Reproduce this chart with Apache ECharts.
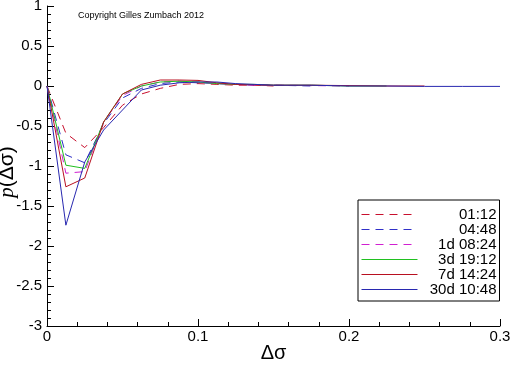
<!DOCTYPE html>
<html>
<head>
<meta charset="utf-8">
<script src="https://cdn.jsdelivr.net/npm/echarts@6/dist/echarts.min.js"></script>
<style>
  html, body { margin: 0; padding: 0; background: #fff; }
  #chart { width: 512px; height: 366px; }
</style>
</head>
<body>
<div id="chart"></div>
<script>
// Δσ grid shared by all curves
var dSigma = [0, 0.0125, 0.025, 0.0375, 0.05, 0.0625, 0.075, 0.0875, 0.1, 0.1125, 0.125, 0.1375, 0.15, 0.175, 0.2, 0.225, 0.25, 0.275, 0.3];

var seriesNames = ['01:12', '04:48', '1d 08:24', '3d 19:12', '7d 14:24', '30d 10:48'];

// p(Δσ), one array per time horizon
var p_0112  = [0, -0.59, -0.77, -0.52, -0.24, -0.1, -0.03, 0.02, 0.03, 0.02, 0.01, 0.01, 0.0];
var p_0448  = [0, -0.86, -0.96, -0.47, -0.15, -0.03, 0.03, 0.05, 0.04, 0.03, 0.02, 0.01, 0.01, 0.0];
var p_1d    = [0, -1.09, -1.07, -0.45, -0.12, 0.0, 0.05, 0.06, 0.05, 0.03, 0.02, 0.01, 0.01, 0.005, 0.0];
var p_3d    = [0, -0.99, -1.03, -0.45, -0.1, 0.0, 0.05, 0.06, 0.05, 0.03, 0.02, 0.02, 0.01, 0.01, 0.0, 0.0];
var p_7d    = [0, -1.26, -1.15, -0.45, -0.1, 0.02, 0.075, 0.075, 0.07, 0.04, 0.02, 0.015, 0.01, 0.01, 0.005, 0.0, 0.0];
var p_30d   = [0, -1.74, -0.95, -0.55, -0.3, -0.05, 0.01, 0.04, 0.05, 0.05, 0.03, 0.02, 0.01, 0.01, 0.0, 0.0, -0.005, -0.005, -0.005];

var yValues = [p_0112, p_0448, p_1d, p_3d, p_7d, p_30d];
var colors = ['#c8102e', '#3030c8', '#d020d0', '#20c020', '#b81020', '#2828b0'];
var dashed = [true, true, true, false, false, false];

function pairs(ys) {
  var out = [];
  for (var i = 0; i < ys.length; i++) {
    out.push([dSigma[i], ys[i]]);
  }
  return out;
}

var series = [];
var legendData = [];
for (var k = 0; k < seriesNames.length; k++) {
  var lineType = dashed[k] ? [8, 6] : 'solid';
  series.push({
    name: seriesNames[k],
    type: 'line',
    data: pairs(yValues[k]),
    showSymbol: false,
    symbol: 'none',
    color: colors[k],
    lineStyle: {
      width: 1,
      color: colors[k],
      type: lineType
    },
    animation: false
  });
  legendData.push({
    name: seriesNames[k],
    itemStyle: { opacity: 0 },
    lineStyle: { width: 1, color: colors[k], type: lineType }
  });
}

var myChart = echarts.init(document.getElementById('chart'));

var option = {
  backgroundColor: '#fff',
  animation: false,
  textStyle: { fontFamily: 'Liberation Sans' },
  grid: {
    left: 47,
    right: 12,
    top: 6,
    bottom: 40,
    containLabel: false,
    outerBoundsMode: 'none'
  },
  graphic: [
    {
      type: 'text',
      left: 78,
      top: 11,
      style: {
        text: 'Copyright Gilles Zumbach 2012',
        fontSize: 9,
        fontFamily: 'Liberation Sans',
        fill: '#000'
      }
    }
  ],
  legend: {
    orient: 'vertical',
    left: 358,
    top: 200,
    padding: [7, 3, 4, 3],
    itemGap: 0,
    itemWidth: 56,
    itemHeight: 15,
    borderColor: '#000',
    borderWidth: 1,
    backgroundColor: '#fff',
    data: legendData,
    formatter: function (name) {
      return '{r|' + name + '}';
    },
    textStyle: {
      fontSize: 15,
      color: '#000',
      rich: {
        r: { width: 74, align: 'right', fontSize: 15, color: '#000' }
      }
    }
  },
  xAxis: {
    type: 'value',
    min: 0,
    max: 0.3,
    interval: 0.1,
    name: 'Δσ',
    nameLocation: 'middle',
    nameGap: 17,
    nameMoveOverlap: false,
    nameTextStyle: { fontSize: 20, color: '#000', verticalAlign: 'top' },
    axisLine: { show: true, onZero: false, lineStyle: { color: '#000', width: 1 } },
    axisTick: { show: true, inside: true, length: 7, lineStyle: { color: '#000' } },
    minorTick: { show: true, splitNumber: 5, length: 4, lineStyle: { color: '#000' } },
    splitLine: { show: false },
    axisLabel: { fontSize: 15, color: '#000', margin: 3 }
  },
  yAxis: {
    type: 'value',
    min: -3,
    max: 1,
    interval: 0.5,
    name: '{i|p}(Δσ)',
    nameLocation: 'middle',
    nameGap: 29,
    nameMoveOverlap: false,
    nameTextStyle: {
      fontSize: 21,
      color: '#000',
      padding: [0, 12, 0, 0],
      rich: { i: { fontStyle: 'italic', fontSize: 21, fontFamily: 'Liberation Serif' } }
    },
    axisLine: { show: true, lineStyle: { color: '#000', width: 1 } },
    axisTick: { show: true, inside: true, length: 7, lineStyle: { color: '#000' } },
    minorTick: { show: true, splitNumber: 5, length: 4, lineStyle: { color: '#000' } },
    splitLine: { show: false },
    axisLabel: { fontSize: 15, color: '#000', margin: 5 }
  },
  series: series
};

myChart.setOption(option);
</script>
</body>
</html>
